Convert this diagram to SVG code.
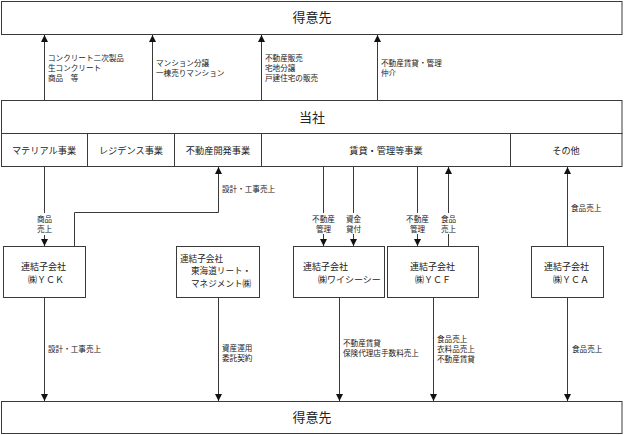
<svg xmlns="http://www.w3.org/2000/svg" width="624" height="435" viewBox="0 0 624 435">
<style>
.box{fill:#fff;stroke:#3a3a3a;stroke-width:1}
.ln{fill:none;stroke:#3a3a3a;stroke-width:1}
text{font-family:"Noto Sans CJK JP","Noto Sans",sans-serif;fill:#222}
.t{font-size:13px;text-anchor:middle}
.s{font-size:9.2px;text-anchor:middle}
.b{font-size:9px}
.b3{font-size:8.6px}
.l{font-size:7.6px}
.lc{font-size:7.6px;text-anchor:middle}
.bg{fill:#fff;stroke:none}
</style>
<defs>
<marker id="arr" viewBox="0 0 8 8" markerWidth="7" markerHeight="7" refX="8" refY="4" orient="auto" markerUnits="userSpaceOnUse">
<path d="M0,0 L8,4 L0,8 z" fill="#111"/>
</marker>
</defs>
<rect width="624" height="435" fill="#fff"/>

<g id="customer-top">
<rect class="box" x="1.5" y="1.5" width="620.5" height="33"/>
<text class="t" x="312" y="22">得意先</text>
</g>

<g id="company">
<rect class="box" x="1.5" y="100.5" width="620.5" height="33"/>
<text class="t" x="312" y="122">当社</text>
</g>

<g id="segments">
<rect class="box" x="1.5" y="133.5" width="620.5" height="33"/>
<line class="ln" x1="87.5" y1="133.5" x2="87.5" y2="166.5"/>
<line class="ln" x1="174.5" y1="133.5" x2="174.5" y2="166.5"/>
<line class="ln" x1="261.5" y1="133.5" x2="261.5" y2="166.5"/>
<line class="ln" x1="510.5" y1="133.5" x2="510.5" y2="166.5"/>
<text class="s" x="44" y="154">マテリアル事業</text>
<text class="s" x="131" y="154">レジデンス事業</text>
<text class="s" x="218" y="154">不動産開発事業</text>
<text class="s" x="386" y="154">賃貸・管理等事業</text>
<text class="s" x="566" y="154">その他</text>
</g>

<g id="yck">
<rect class="box" x="3.5" y="246.5" width="82" height="51"/>
<text class="b" x="21" y="269.5">連結子会社</text>
<text class="b" x="28" y="282.5">㈱ＹＣＫ</text>
</g>

<g id="tokaido">
<rect class="box" x="176.5" y="246.5" width="83" height="51"/>
<text class="b3" x="180" y="261.5">連結子会社</text>
<text class="b3" x="191" y="274">東海道リート・</text>
<text class="b3" x="191" y="286.5">マネジメント㈱</text>
</g>

<g id="ycc">
<rect class="box" x="293.5" y="246.5" width="91" height="51"/>
<text class="b" x="303" y="269.5">連結子会社</text>
<text class="b" x="318" y="282.5">㈱ワイシーシー</text>
</g>

<g id="ycf">
<rect class="box" x="387.5" y="246.5" width="91" height="51"/>
<text class="b" x="410" y="269.5">連結子会社</text>
<text class="b" x="415" y="282.5">㈱ＹＣＦ</text>
</g>

<g id="yca">
<rect class="box" x="531.5" y="246.5" width="72" height="51"/>
<text class="b" x="544" y="269.5">連結子会社</text>
<text class="b" x="553" y="282.5">㈱ＹＣＡ</text>
</g>

<g id="customer-bottom">
<rect class="box" x="1.5" y="401.5" width="620.5" height="32"/>
<text class="t" x="312" y="422">得意先</text>
</g>

<g id="connectors">
<line class="ln" x1="44.5" y1="100" x2="44.5" y2="35" marker-end="url(#arr)"/>
<line class="ln" x1="152.5" y1="100" x2="152.5" y2="35" marker-end="url(#arr)"/>
<line class="ln" x1="261.5" y1="100" x2="261.5" y2="35" marker-end="url(#arr)"/>
<line class="ln" x1="377.5" y1="100" x2="377.5" y2="35" marker-end="url(#arr)"/>
<text class="l" x="48" y="61">コンクリート二次製品</text>
<text class="l" x="48" y="71">生コンクリート</text>
<text class="l" x="48" y="81">商品　等</text>
<text class="l" x="156" y="66">マンション分譲</text>
<text class="l" x="156" y="76">一棟売りマンション</text>
<text class="l" x="265" y="61">不動産販売</text>
<text class="l" x="265" y="71">宅地分譲</text>
<text class="l" x="265" y="81">戸建住宅の販売</text>
<text class="l" x="381" y="66">不動産賃貸・管理</text>
<text class="l" x="381" y="76">仲介</text>

<line class="ln" x1="44.5" y1="167" x2="44.5" y2="246" marker-end="url(#arr)"/>
<rect class="bg" x="35" y="213" width="19" height="22"/>
<text class="lc" x="44.5" y="222">商品</text>
<text class="lc" x="44.5" y="232">売上</text>

<polyline class="ln" points="74.5,246 74.5,212.5 218.5,212.5 218.5,167" marker-end="url(#arr)"/>
<text class="l" x="222" y="192">設計・工事売上</text>

<line class="ln" x1="323.5" y1="167" x2="323.5" y2="246" marker-end="url(#arr)"/>
<rect class="bg" x="311" y="213" width="25" height="21"/>
<text class="lc" x="323.5" y="221.5">不動産</text>
<text class="lc" x="323.5" y="231.5">管理</text>

<line class="ln" x1="353.5" y1="167" x2="353.5" y2="246" marker-end="url(#arr)"/>
<rect class="bg" x="344" y="213" width="19" height="21"/>
<text class="lc" x="353.5" y="221.5">資金</text>
<text class="lc" x="353.5" y="231.5">貸付</text>

<line class="ln" x1="417.5" y1="167" x2="417.5" y2="246" marker-end="url(#arr)"/>
<rect class="bg" x="405" y="213" width="25" height="21"/>
<text class="lc" x="417.5" y="221.5">不動産</text>
<text class="lc" x="417.5" y="231.5">管理</text>

<line class="ln" x1="448.5" y1="246" x2="448.5" y2="167" marker-end="url(#arr)"/>
<rect class="bg" x="439" y="213" width="19" height="21"/>
<text class="lc" x="448.5" y="221.5">食品</text>
<text class="lc" x="448.5" y="231.5">売上</text>

<line class="ln" x1="567.5" y1="246" x2="567.5" y2="167" marker-end="url(#arr)"/>
<text class="l" x="571" y="211">食品売上</text>

<line class="ln" x1="44.5" y1="298" x2="44.5" y2="401" marker-end="url(#arr)"/>
<text class="l" x="48" y="352">設計・工事売上</text>

<line class="ln" x1="218.5" y1="298" x2="218.5" y2="401" marker-end="url(#arr)"/>
<text class="l" x="222" y="351">資産運用</text>
<text class="l" x="222" y="361">委託契約</text>

<line class="ln" x1="339.5" y1="298" x2="339.5" y2="401" marker-end="url(#arr)"/>
<text class="l" x="343" y="346">不動産賃貸</text>
<text class="l" x="343" y="356">保険代理店手数料売上</text>

<line class="ln" x1="433.5" y1="298" x2="433.5" y2="401" marker-end="url(#arr)"/>
<text class="l" x="437" y="341.5">食品売上</text>
<text class="l" x="437" y="351.5">衣料品売上</text>
<text class="l" x="437" y="361.5">不動産賃貸</text>

<line class="ln" x1="567.5" y1="298" x2="567.5" y2="401" marker-end="url(#arr)"/>
<text class="l" x="572" y="352">食品売上</text>
</g>
</svg>
